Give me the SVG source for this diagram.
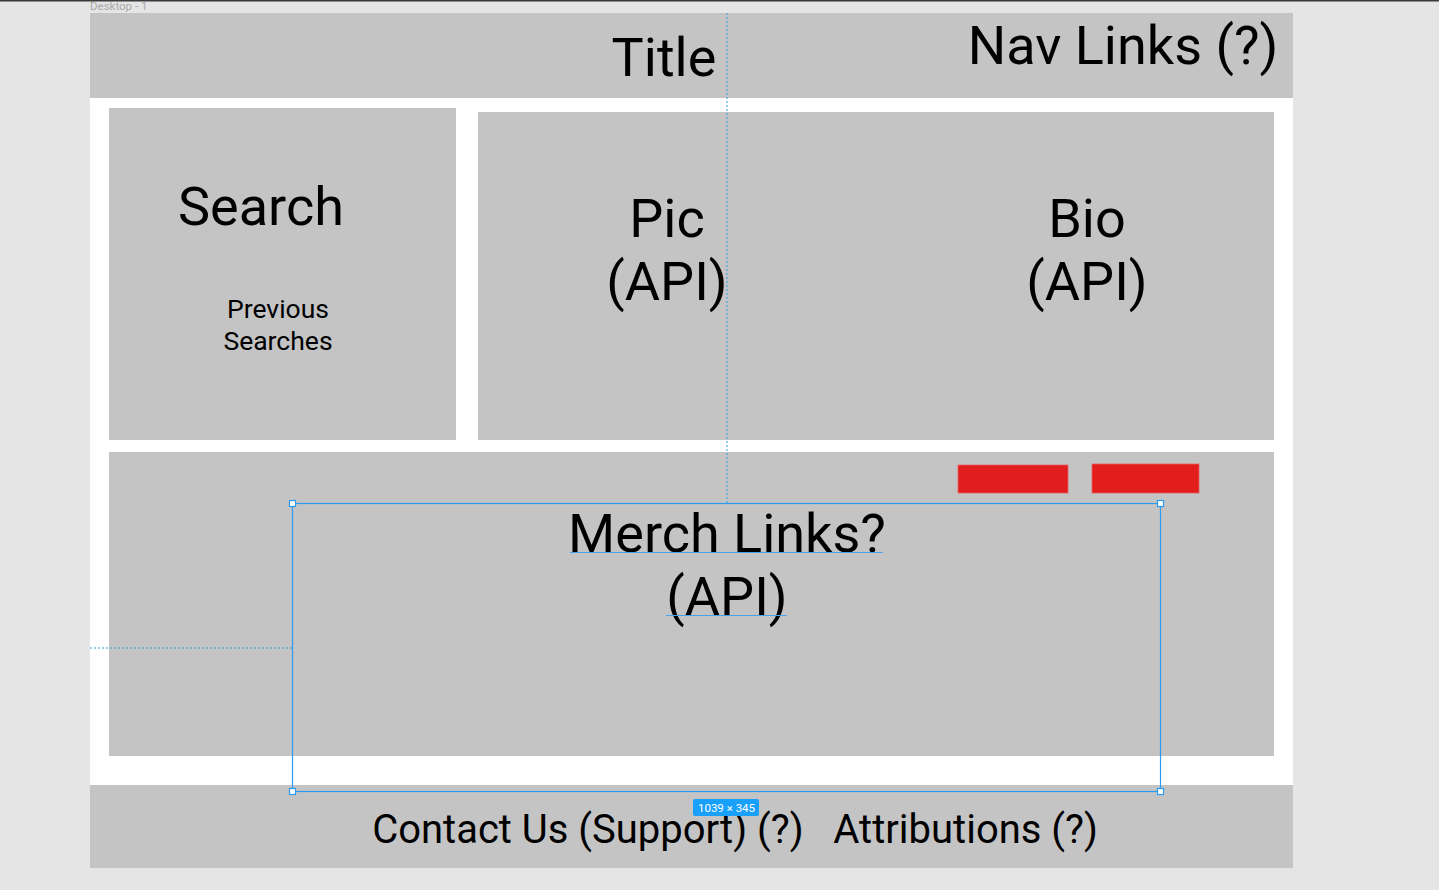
<svg xmlns="http://www.w3.org/2000/svg" width="1439" height="890" viewBox="0 0 1439 890">
<style>
.box{fill:#c4c4c4}
.t{font-family:Roboto,"Liberation Sans",sans-serif;fill:#000}
.big{font-size:54px}
.mid{font-size:40px}
.sm{font-size:26.5px}
.sel{fill:none;stroke:#2d9cf0;stroke-width:1.2}
.dot{fill:none;stroke:#2d9cf0;stroke-width:1;stroke-dasharray:2 2}
.h{fill:#fff;stroke:#2d9cf0;stroke-width:1.2}
</style>
<rect x="0" y="0" width="1439" height="890" fill="#e5e5e5"/>
<text x="90" y="10" font-family="Roboto,'Liberation Sans',sans-serif" font-size="11.5" fill="#a8a8a8">Desktop - 1</text>
<rect x="0" y="0" width="1439" height="1.5" fill="#3a3a3a"/>
<rect x="90" y="13" width="1203" height="855" fill="#fff"/>
<g id="header">
<rect class="box" x="90" y="13" width="1203" height="85"/>
<text class="t big" x="664" y="76" text-anchor="middle">Title</text>
<text class="t big" x="1123" y="64" text-anchor="middle">Nav Links (?)</text>
</g>
<g id="search">
<rect class="box" x="109" y="108" width="347" height="332"/>
<text class="t big" x="261" y="225" text-anchor="middle">Search</text>
<text class="t sm" x="278" y="318" text-anchor="middle">Previous</text>
<text class="t sm" x="278" y="350" text-anchor="middle">Searches</text>
</g>
<g id="pic-bio">
<rect class="box" x="478" y="112" width="796" height="328"/>
<text class="t big" x="667" y="237" text-anchor="middle">Pic</text>
<text class="t big" x="667" y="300" text-anchor="middle">(API)</text>
<text class="t big" x="1087" y="237" text-anchor="middle">Bio</text>
<text class="t big" x="1087" y="300" text-anchor="middle">(API)</text>
</g>
<g id="merch">
<rect class="box" x="109" y="452" width="1165" height="304"/>
<rect x="958" y="465" width="110" height="28" fill="#e11d1d" stroke="#e86060" stroke-width="0.8"/>
<rect x="1092" y="464" width="107" height="29" fill="#e31c1c" stroke="#e86060" stroke-width="0.8"/>
<text class="t big" x="727" y="552" text-anchor="middle">Merch Links?</text>
<text class="t big" x="727" y="615" text-anchor="middle">(API)</text>
</g>
<g id="footer">
<rect class="box" x="90" y="785" width="1203" height="83"/>
<text class="t mid" x="735" y="843" text-anchor="middle" xml:space="preserve">Contact Us (Support) (?)   Attributions (?)</text>
</g>
<g id="connectors">
<line class="dot" x1="727" y1="13" x2="727" y2="503"/>
<line class="dot" x1="90" y1="648" x2="292" y2="648"/>
<line x1="570" y1="552.5" x2="883" y2="552.5" stroke="#4aa3e8" stroke-width="1.2"/>
<line x1="666" y1="615.5" x2="787" y2="615.5" stroke="#4aa3e8" stroke-width="1.2"/>
<rect class="sel" x="292.5" y="503.5" width="868" height="288"/>
<rect class="h" x="289.5" y="500.5" width="6" height="6"/>
<rect class="h" x="1157.5" y="500.5" width="6" height="6"/>
<rect class="h" x="289.5" y="788.5" width="6" height="6"/>
<rect class="h" x="1157.5" y="788.5" width="6" height="6"/>
<rect x="693" y="799" width="66" height="17" rx="2" fill="#18a0fb"/>
<text x="726.5" y="811.5" text-anchor="middle" font-family="Roboto,'Liberation Sans',sans-serif" font-size="11.5" fill="#fff">1039 × 345</text>
</g>
</svg>
